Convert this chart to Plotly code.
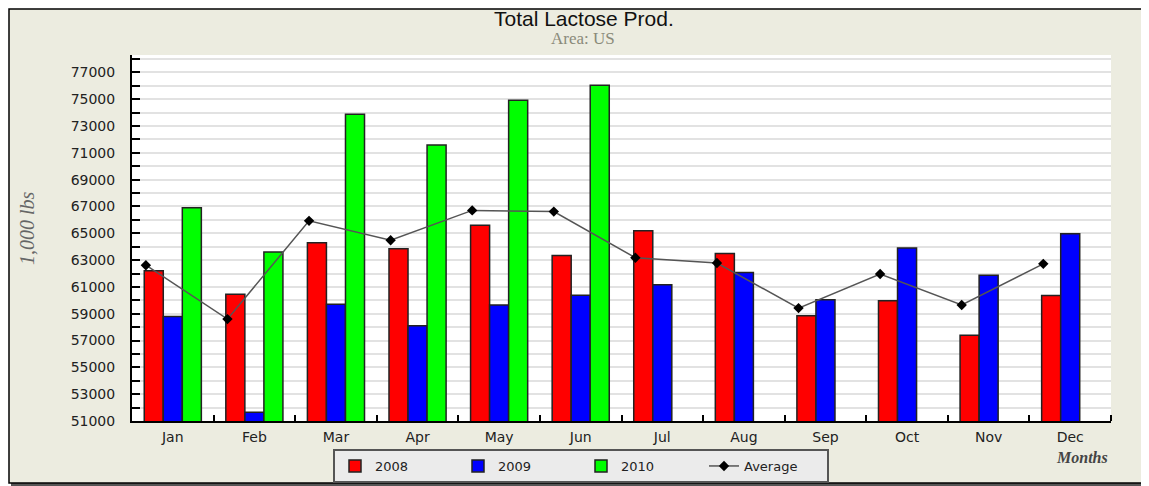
import plotly.graph_objects as go

# ---------------- data ----------------
months = ["Jan", "Feb", "Mar", "Apr", "May", "Jun", "Jul", "Aug", "Sep", "Oct", "Nov", "Dec"]
s2008 = [62200, 60450, 64300, 63850, 65600, 63350, 65200, 63500, 58850, 59970, 57400, 60360]
s2009 = [58800, 51650, 59700, 58100, 59650, 60380, 61160, 62080, 60040, 63900, 61880, 64970]
s2010 = [66900, 63600, 73880, 71580, 74920, 76050, None, None, None, None, None, None]
average = [62620, 58600, 65930, 64480, 66710, 66620, 63180, 62780, 59420, 61960, 59650, 62720]
y_tick_values = list(range(51000, 78001, 1000))
y_tick_labels = [str(v) if (v - 51000) % 2000 == 0 else "" for v in y_tick_values]

# ---------------- geometry helpers (layout only) ----------------
PAGE_W, PAGE_H = 1149, 486
OFF = 8  # default page body margin
W, H = PAGE_W - OFF, PAGE_H - OFF
L, R, T, B = 132, 1111, 55, 421   # plot area in page pixels
PW, PH = R - L, B - T


def px(x):
    return (x - L) / PW


def py(y):
    return (B - y) / PH


xs = list(range(len(months)))
BARGAP = 0.3
avg_x = [i - (1 - BARGAP) / 2 + 0.02 for i in xs]

TICKFONT = dict(family="DejaVu Sans", size=14, color="#222222")

fig = go.Figure()
for name, vals, col in [("2008", s2008, "#FF0000"), ("2009", s2009, "#0000FF"), ("2010", s2010, "#00FF00")]:
    fig.add_trace(go.Bar(
        x=xs, y=vals, name=name,
        marker=dict(color=col, line=dict(color="#222222", width=1.5)),
    ))

fig.add_trace(go.Scatter(
    x=avg_x, y=average, name="Average", mode="lines+markers",
    line=dict(color="#555555", width=1.5),
    marker=dict(symbol="diamond", size=8, color="#000000"),
))

shapes = [
    # shadow
    dict(type="rect", xref="paper", yref="paper", x0=px(11), x1=px(1149), y0=py(486), y1=py(11),
         fillcolor="#555555", line=dict(width=0), layer="below"),
    # beige frame
    dict(type="rect", xref="paper", yref="paper", x0=px(9), x1=px(1146), y0=py(483), y1=py(9),
         fillcolor="#ECECE0", line=dict(color="#000000", width=1.5), layer="below"),
    # plot area
    dict(type="rect", xref="paper", yref="paper", x0=0, x1=1, y0=0, y1=1,
         fillcolor="#FFFFFF", line=dict(width=0), layer="below"),
]

annotations = [
    dict(text="Total Lactose Prod.", x=px(584), y=py(18), xref="paper", yref="paper",
         xanchor="center", yanchor="middle", showarrow=False,
         font=dict(family="Liberation Sans", size=21, color="#111111")),
    dict(text="Area: US", x=px(583), y=py(39), xref="paper", yref="paper",
         xanchor="center", yanchor="middle", showarrow=False,
         font=dict(family="Liberation Serif", size=17, color="#8A8A7A")),
    dict(text="<i>1,000 lbs</i>", x=px(27), y=py(228), xref="paper", yref="paper",
         xanchor="center", yanchor="middle", showarrow=False, textangle=-90,
         font=dict(family="Liberation Serif", size=20, color="#666666")),
    dict(text="<b><i>Months</i></b>", x=px(1110), y=py(457), xref="paper", yref="paper",
         xanchor="right", yanchor="middle", showarrow=False,
         font=dict(family="Liberation Serif", size=16, color="#444444")),
]

fig.update_layout(
    width=W, height=H,
    margin=dict(l=L - OFF, r=PAGE_W - R, t=T - OFF, b=PAGE_H - B, pad=0, autoexpand=False),
    paper_bgcolor="#FFFFFF",
    plot_bgcolor="rgba(0,0,0,0)",
    barmode="group", bargap=BARGAP, bargroupgap=0,
    shapes=shapes,
    annotations=annotations,
    showlegend=True,
    legend=dict(
        orientation="h", x=px(333), xanchor="left", y=py(483), yanchor="bottom",
        bgcolor="#EBEBEB", bordercolor="#555555", borderwidth=2,
        font=dict(family="DejaVu Sans", size=13, color="#222222"),
        entrywidth=78, entrywidthmode="pixels",
        traceorder="normal",
    ),
    xaxis=dict(
        range=[-0.5, 11.5],
        tickvals=xs, ticktext=months,
        ticks="", showgrid=False, zeroline=False,
        showline=True, linecolor="#000000", linewidth=2,
        tickfont=TICKFONT, ticklabelstandoff=2,
        minor=dict(tickvals=[i + 0.5 for i in xs], ticks="inside", ticklen=6,
                   tickcolor="#000000", tickwidth=1.5, showgrid=False),
        fixedrange=True,
    ),
    yaxis=dict(
        range=[51000, 78300],
        tickvals=y_tick_values, ticktext=y_tick_labels,
        ticks="inside", ticklen=8, tickcolor="#000000", tickwidth=1.5,
        showgrid=True, gridcolor="#E2E2E2", gridwidth=2,
        zeroline=False,
        showline=True, linecolor="#000000", linewidth=2,
        tickfont=TICKFONT, ticklabelstandoff=12,
        fixedrange=True,
    ),
)

fig.write_html("out.html")
